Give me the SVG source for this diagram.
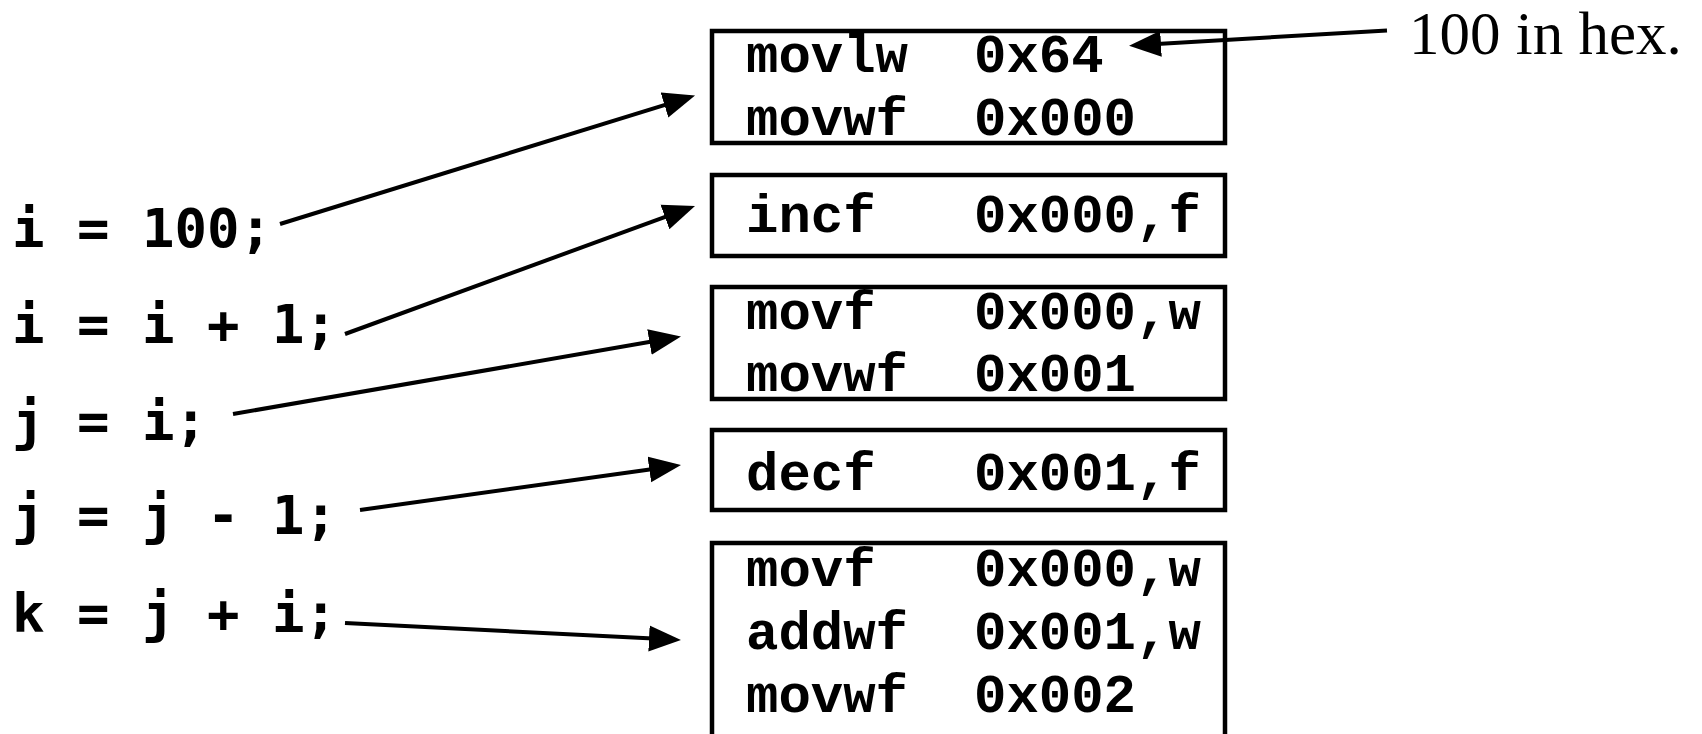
<svg xmlns="http://www.w3.org/2000/svg" width="1702" height="734" viewBox="0 0 1702 734">
  <style>
    .box { fill: #ffffff; stroke: #000000; stroke-width: 4.5; }
    .asm { font-family: "Liberation Mono", "Courier New", monospace; font-weight: bold; font-size: 54px; fill: #000000; }
    .src { font-family: "DejaVu Sans Mono", "Liberation Mono", monospace; font-weight: bold; font-size: 54px; fill: #000000; }
    .note { font-family: "Liberation Serif", "Times New Roman", serif; font-size: 61px; fill: #000000; }
    .arrow { fill: none; stroke: #000000; stroke-width: 4; marker-end: url(#head); }
  </style>
  <defs>
    <marker id="head" markerUnits="userSpaceOnUse" markerWidth="34" markerHeight="28" refX="4" refY="14" orient="auto" viewBox="0 0 34 28">
      <path d="M0,1 L32,14 L0,27 z" fill="#000000"/>
    </marker>
  </defs>

  <rect width="1702" height="734" fill="#ffffff"/>

  <!-- C source statements -->
  <g id="src-i-100">
    <text class="src" x="12" y="247">i = 100;</text>
  </g>
  <g id="src-i-inc">
    <text class="src" x="12" y="343">i = i + 1;</text>
  </g>
  <g id="src-j-i">
    <text class="src" x="12" y="440">j = i;</text>
  </g>
  <g id="src-j-dec">
    <text class="src" x="12" y="534">j = j - 1;</text>
  </g>
  <g id="src-k-sum">
    <text class="src" x="12" y="632">k = j + i;</text>
  </g>

  <!-- PIC instruction blocks -->
  <g id="asm-block-1">
    <rect class="box" x="712" y="31" width="513" height="112"/>
    <text class="asm" x="746" y="72">movlw</text>
    <text class="asm" x="974" y="72">0x64</text>
    <text class="asm" x="746" y="135">movwf</text>
    <text class="asm" x="974" y="135">0x000</text>
  </g>
  <g id="asm-block-2">
    <rect class="box" x="712" y="175" width="513" height="81"/>
    <text class="asm" x="746" y="232">incf</text>
    <text class="asm" x="974" y="232">0x000,f</text>
  </g>
  <g id="asm-block-3">
    <rect class="box" x="712" y="287" width="513" height="112"/>
    <text class="asm" x="746" y="329">movf</text>
    <text class="asm" x="974" y="329">0x000,w</text>
    <text class="asm" x="746" y="391">movwf</text>
    <text class="asm" x="974" y="391">0x001</text>
  </g>
  <g id="asm-block-4">
    <rect class="box" x="712" y="430" width="513" height="80"/>
    <text class="asm" x="746" y="490">decf</text>
    <text class="asm" x="974" y="490">0x001,f</text>
  </g>
  <g id="asm-block-5">
    <rect class="box" x="712" y="543" width="513" height="196"/>
    <text class="asm" x="746" y="586">movf</text>
    <text class="asm" x="974" y="586">0x000,w</text>
    <text class="asm" x="746" y="649">addwf</text>
    <text class="asm" x="974" y="649">0x001,w</text>
    <text class="asm" x="746" y="712">movwf</text>
    <text class="asm" x="974" y="712">0x002</text>
  </g>

  <!-- annotation -->
  <g id="note-hex">
    <text class="note" x="1409" y="54">100 in hex.</text>
  </g>

  <!-- connectors -->
  <g id="connectors">
    <line class="arrow" x1="280" y1="224" x2="668.3" y2="103.8"/>
    <line class="arrow" x1="345" y1="334" x2="668.7" y2="215.6"/>
    <line class="arrow" x1="233" y1="414" x2="653.4" y2="341.3"/>
    <line class="arrow" x1="360" y1="510" x2="653.3" y2="468.9"/>
    <line class="arrow" x1="345" y1="623" x2="653.0" y2="638.6"/>
    <line class="arrow" x1="1387" y1="30.4" x2="1157" y2="44"/>
  </g>
</svg>
